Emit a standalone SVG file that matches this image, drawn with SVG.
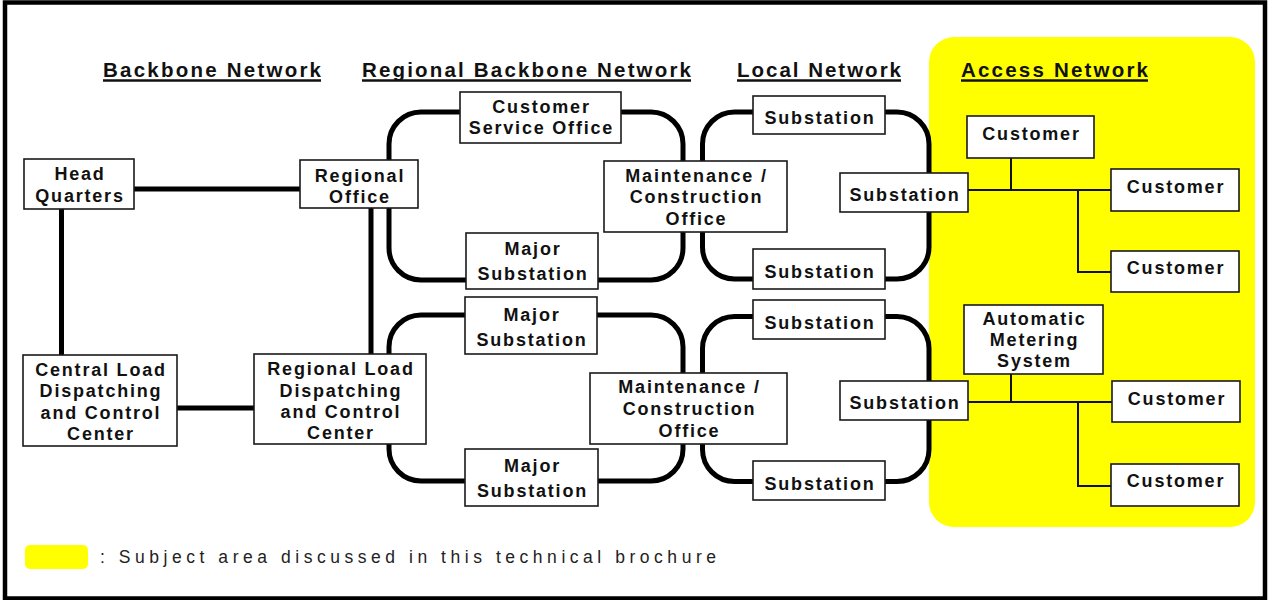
<svg xmlns="http://www.w3.org/2000/svg" width="1269" height="600" viewBox="0 0 1269 600">
  <style>
    .frame { fill: #fff; stroke: #000; stroke-width: 4.5; }
    .area { fill: #ffff00; stroke: none; }
    .box { fill: #fff; stroke: #1a1a1a; stroke-width: 1.6; }
    .lbl { font-family: "Liberation Sans", Arial, sans-serif; font-weight: bold; font-size: 18px; letter-spacing: 1.8px; text-anchor: middle; fill: #111; }
    .head { font-family: "Liberation Sans", Arial, sans-serif; font-weight: bold; font-size: 20.5px; fill: #111; }
    .uline { stroke: #111; stroke-width: 2.4; }
    .trunk { fill: none; stroke: #000; stroke-width: 5; }
    .loop { fill: none; stroke: #000; stroke-width: 5; }
    .feed { fill: none; stroke: #111; stroke-width: 2; }
    .note { font-family: "Liberation Sans", Arial, sans-serif; font-size: 17.5px; fill: #222; }
  </style>

  <!-- outer frame -->
  <rect class="frame" x="5" y="2.5" width="1260" height="596"/>

  <!-- highlighted access area -->
  <rect class="area" x="929" y="37" width="326" height="490" rx="25"/>

  <!-- column headings -->
  <g id="headings">
    <text class="head" x="103" y="77" textLength="218" lengthAdjust="spacing">Backbone Network</text>
    <line class="uline" x1="103" y1="80.5" x2="321" y2="80.5"/>
    <text class="head" x="362" y="77" textLength="329" lengthAdjust="spacing">Regional Backbone Network</text>
    <line class="uline" x1="362" y1="80.5" x2="691" y2="80.5"/>
    <text class="head" x="737" y="77" textLength="164" lengthAdjust="spacing">Local Network</text>
    <line class="uline" x1="737" y1="80.5" x2="901" y2="80.5"/>
    <text class="head" x="961" y="77" textLength="187" lengthAdjust="spacing">Access Network</text>
    <line class="uline" x1="961" y1="80.5" x2="1148" y2="80.5"/>
  </g>

  <!-- connectors -->
  <g id="connectors">
    <!-- backbone trunks -->
    <line class="trunk" x1="134" y1="189" x2="300" y2="189"/>
    <line class="trunk" x1="61.5" y1="209" x2="61.5" y2="355"/>
    <line class="trunk" x1="371" y1="208" x2="371" y2="354"/>
    <line class="trunk" x1="177" y1="408" x2="254" y2="408"/>
    <!-- regional rings -->
    <rect class="loop" x="389" y="112" width="294" height="168" rx="32"/>
    <rect class="loop" x="389" y="315" width="294" height="166" rx="32"/>
    <!-- local rings -->
    <rect class="loop" x="702.5" y="112" width="226.5" height="167" rx="32"/>
    <rect class="loop" x="702.5" y="316.5" width="226.5" height="165" rx="32"/>
    <!-- access feeders, upper -->
    <polyline class="feed" points="968,190 1111,190"/>
    <polyline class="feed" points="1011,158 1011,190"/>
    <polyline class="feed" points="1078,190 1078,272 1111,272"/>
    <!-- access feeders, lower -->
    <polyline class="feed" points="968,402 1112,402"/>
    <polyline class="feed" points="1011,374 1011,402"/>
    <polyline class="feed" points="1078,402 1078,486 1111,486"/>
  </g>

  <!-- backbone nodes -->
  <g id="head-quarters">
    <rect class="box" x="24" y="159" width="110" height="50"/>
    <text class="lbl" x="80" y="180">Head</text>
    <text class="lbl" x="80" y="202">Quarters</text>
  </g>
  <g id="regional-office">
    <rect class="box" x="300" y="160" width="118" height="48"/>
    <text class="lbl" x="360" y="182">Regional</text>
    <text class="lbl" x="360" y="203">Office</text>
  </g>
  <g id="central-load-dispatching">
    <rect class="box" x="23" y="355" width="154" height="91"/>
    <text class="lbl" x="101" y="376">Central Load</text>
    <text class="lbl" x="101" y="397">Dispatching</text>
    <text class="lbl" x="101" y="419">and Control</text>
    <text class="lbl" x="101" y="440">Center</text>
  </g>
  <g id="regional-load-dispatching">
    <rect class="box" x="254" y="354" width="172" height="90"/>
    <text class="lbl" x="341" y="375">Regional Load</text>
    <text class="lbl" x="341" y="397">Dispatching</text>
    <text class="lbl" x="341" y="418">and Control</text>
    <text class="lbl" x="341" y="439">Center</text>
  </g>

  <!-- regional backbone nodes -->
  <g id="customer-service-office">
    <rect class="box" x="460" y="92" width="161" height="51"/>
    <text class="lbl" x="541.5" y="113">Customer</text>
    <text class="lbl" x="541.5" y="134">Service Office</text>
  </g>
  <g id="maintenance-office-1">
    <rect class="box" x="604" y="161" width="183" height="71"/>
    <text class="lbl" x="696.5" y="182">Maintenance /</text>
    <text class="lbl" x="696.5" y="203">Construction</text>
    <text class="lbl" x="696.5" y="225">Office</text>
  </g>
  <g id="major-substation-1">
    <rect class="box" x="466" y="233" width="132" height="56"/>
    <text class="lbl" x="533" y="255">Major</text>
    <text class="lbl" x="533" y="280">Substation</text>
  </g>
  <g id="major-substation-2">
    <rect class="box" x="465" y="297" width="132" height="57"/>
    <text class="lbl" x="532" y="321">Major</text>
    <text class="lbl" x="532" y="346">Substation</text>
  </g>
  <g id="maintenance-office-2">
    <rect class="box" x="590" y="373" width="197" height="71"/>
    <text class="lbl" x="689.5" y="393">Maintenance /</text>
    <text class="lbl" x="689.5" y="415">Construction</text>
    <text class="lbl" x="689.5" y="437">Office</text>
  </g>
  <g id="major-substation-3">
    <rect class="box" x="465" y="449" width="133" height="57"/>
    <text class="lbl" x="532.5" y="472">Major</text>
    <text class="lbl" x="532.5" y="497">Substation</text>
  </g>

  <!-- local network nodes -->
  <g id="substation-1">
    <rect class="box" x="753" y="96" width="132" height="38"/>
    <text class="lbl" x="820" y="124">Substation</text>
  </g>
  <g id="substation-2">
    <rect class="box" x="840" y="173" width="128" height="39"/>
    <text class="lbl" x="905" y="201">Substation</text>
  </g>
  <g id="substation-3">
    <rect class="box" x="753" y="249" width="132" height="40"/>
    <text class="lbl" x="820" y="278">Substation</text>
  </g>
  <g id="substation-4">
    <rect class="box" x="753" y="300" width="132" height="39"/>
    <text class="lbl" x="820" y="329">Substation</text>
  </g>
  <g id="substation-5">
    <rect class="box" x="840" y="381" width="128" height="39"/>
    <text class="lbl" x="905" y="409">Substation</text>
  </g>
  <g id="substation-6">
    <rect class="box" x="753" y="461" width="132" height="39"/>
    <text class="lbl" x="820" y="490">Substation</text>
  </g>

  <!-- access network nodes -->
  <g id="customer-1">
    <rect class="box" x="967" y="116" width="127" height="42"/>
    <text class="lbl" x="1031.5" y="140">Customer</text>
  </g>
  <g id="customer-2">
    <rect class="box" x="1111" y="169" width="128" height="42"/>
    <text class="lbl" x="1176" y="193">Customer</text>
  </g>
  <g id="customer-3">
    <rect class="box" x="1111" y="251" width="128" height="41"/>
    <text class="lbl" x="1176" y="274">Customer</text>
  </g>
  <g id="automatic-metering-system">
    <rect class="box" x="964" y="305" width="139" height="69"/>
    <text class="lbl" x="1034.5" y="325">Automatic</text>
    <text class="lbl" x="1034.5" y="346">Metering</text>
    <text class="lbl" x="1034.5" y="367">System</text>
  </g>
  <g id="customer-4">
    <rect class="box" x="1112" y="381" width="128" height="41"/>
    <text class="lbl" x="1177" y="405">Customer</text>
  </g>
  <g id="customer-5">
    <rect class="box" x="1111" y="464" width="128" height="42"/>
    <text class="lbl" x="1176" y="487">Customer</text>
  </g>

  <!-- legend -->
  <g id="legend">
    <rect class="area" x="25" y="545" width="63" height="24" rx="5"/>
    <text class="note" x="100" y="563" textLength="616" lengthAdjust="spacing">: Subject area discussed in this technical brochure</text>
  </g>
</svg>
